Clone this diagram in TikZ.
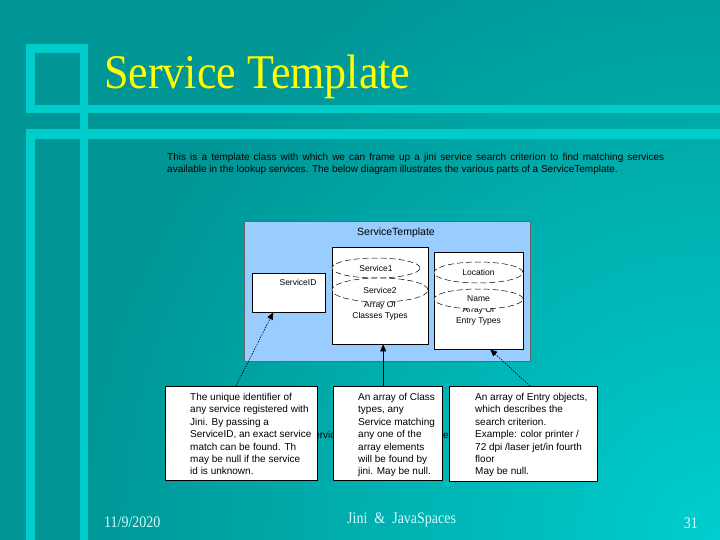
\documentclass[tikz,border=0pt]{standalone}
\usepackage{fontspec}
\setmainfont{Liberation Serif}
\newfontfamily\uifont{Liberation Sans}
\usetikzlibrary{positioning, arrows.meta, shapes.geometric}
\definecolor{slidedark}{RGB}{0, 150, 150}
\definecolor{slidelight}{RGB}{0, 206, 206}
\definecolor{slidebar}{RGB}{0, 204, 204}
\definecolor{titleyellow}{RGB}{255, 255, 0}
\definecolor{footcyan}{RGB}{210, 255, 255}
\definecolor{tmplblue}{RGB}{153, 204, 255}

\begin{document}
\begin{tikzpicture}[x=1pt, y=-1pt, inner sep=0pt,
    every node/.style={font=\uifont\fontsize{10}{12.4}\selectfont},
    small/.style={font=\uifont\fontsize{8.5}{11}\selectfont},
    part/.style={draw=black, line width=0.4pt, fill=white, anchor=north west},
    field/.style={ellipse, draw=black, line width=0.5pt, dash pattern=on 6pt off 3pt, fill=white, small},
    note/.style={draw=black, line width=0.8pt, fill=white, anchor=north west},
    notetext/.style={anchor=north west, align=left},
    link/.style={-{Triangle[length=7pt, width=6pt]}, line width=0.6pt},
    linkdot/.style={link, dash pattern=on 1.5pt off 1.2pt},
    foot/.style={font=\rmfamily\fontsize{14}{16}\selectfont, text=footcyan, anchor=base west}]
    \useasboundingbox (0,0) rectangle (720,540);

    % slide background and frame bars
    \fill[slidedark] (0,0) rectangle (720,540);
    \begin{scope}
      \clip (0,0) rectangle (720,540);
      \shade[inner color=slidelight, outer color=slidedark] (720,540) circle (640pt);
    \end{scope}
    \fill[slidebar] (26,44) rectangle (88,53);
    \fill[slidebar] (26,44) rectangle (35,113);
    \fill[slidebar] (26,105) rectangle (720,113);
    \fill[slidebar] (80,44) rectangle (88,540);
    \fill[slidebar] (26,129) rectangle (720,139);
    \fill[slidebar] (26,129) rectangle (35,540);

    \node[anchor=base west, font=\rmfamily\fontsize{44}{48}\selectfont, text=titleyellow] (title) at (104,89)
      {\scalebox{1}[1.1]{Service Template}};

    \node[anchor=north west, align=justify, text width=497pt] (intro) at (167,153)
      {This is a template class with which we can frame up a jini service search criterion to find matching services\linebreak
       available in the lookup services. The below diagram illustrates the various parts of a ServiceTemplate.};

    % the template and its parts
    \node[fill=tmplblue, draw=black!60, line width=0.6pt, minimum width=286pt, minimum height=140pt, anchor=north west] (tmpl) at (244,221) {};
    \node[font=\uifont\fontsize{10.5}{12}\selectfont] (tmpllabel) at (396,233) {ServiceTemplate};

    \node[part, minimum width=73pt, minimum height=39pt] (sid) at (252,273) {};
    \node[small] (sidlabel) at (298,282) {ServiceID};

    \node[part, minimum width=96pt, minimum height=97pt] (classes) at (332,247) {};
    \node[small, align=center] (classeslabel) at (380,311) {Array Of\\Classes Types};
    \node[field, minimum width=88pt, minimum height=20pt] (svc1) at (376,268) {Service1};
    \node[field, minimum width=96pt, minimum height=24pt] (svc2) at (380,290) {Service2};

    \node[part, minimum width=89pt, minimum height=97pt] (entries) at (434,252) {};
    \node[small, align=center] (entrieslabel) at (478.5,316) {Array Of\\Entry Types};
    \node[field, minimum width=89pt, minimum height=21pt] (loc) at (478.5,272.5) {Location};
    \node[field, minimum width=89pt, minimum height=20pt] (name) at (478.5,299) {Name};

    % notes below
    \node[anchor=base west] (hidden1) at (309,438) {service};
    \node[anchor=base west] (hidden2) at (443,438) {er};

    \node[note, minimum width=152pt, minimum height=94pt] (idnote) at (165,386) {};
    \node[notetext] (idtext) at (190,393)
      {The unique identifier of\\any service registered with\\Jini. By passing a\\ServiceID, an exact service\\match can be found. Th\\may be null if the service\\id is unknown.};

    \node[note, minimum width=109pt, minimum height=94pt] (classnote) at (333,386) {};
    \node[notetext] (classtext) at (358,393)
      {An array of Class\\types, any\\Service matching\\any one of the\\array elements\\will be found by\\jini. May be null.};

    \node[note, minimum width=148pt, minimum height=95pt] (entrynote) at (449,386) {};
    \node[notetext] (entrytext) at (475,393)
      {An array of Entry objects,\\which describes the\\search criterion.\\Example: color printer /\\72 dpi /laser jet/in fourth\\floor\\May be null.};

    \draw[linkdot] ([xshift=71pt]idnote.north west) -- ([xshift=-15.5pt]sid.south);
    \draw[link] ([xshift=3pt]classes.south |- classnote.north) -- ([xshift=3pt]classes.south);
    \draw[linkdot] ([xshift=81pt]entrynote.north west) -- ([xshift=11.5pt]entries.south);

    % footer
    \node[foot] (date) at (104,527) {\scalebox{1}[1.15]{11/9/2020}};
    \node[foot] (course) at (347,523) {\scalebox{1}[1.15]{Jini\ \ \&\ \ JavaSpaces}};
    \node[foot, anchor=base east] (page) at (698,528) {\scalebox{1}[1.15]{31}};
  \end{tikzpicture}
\end{document}
